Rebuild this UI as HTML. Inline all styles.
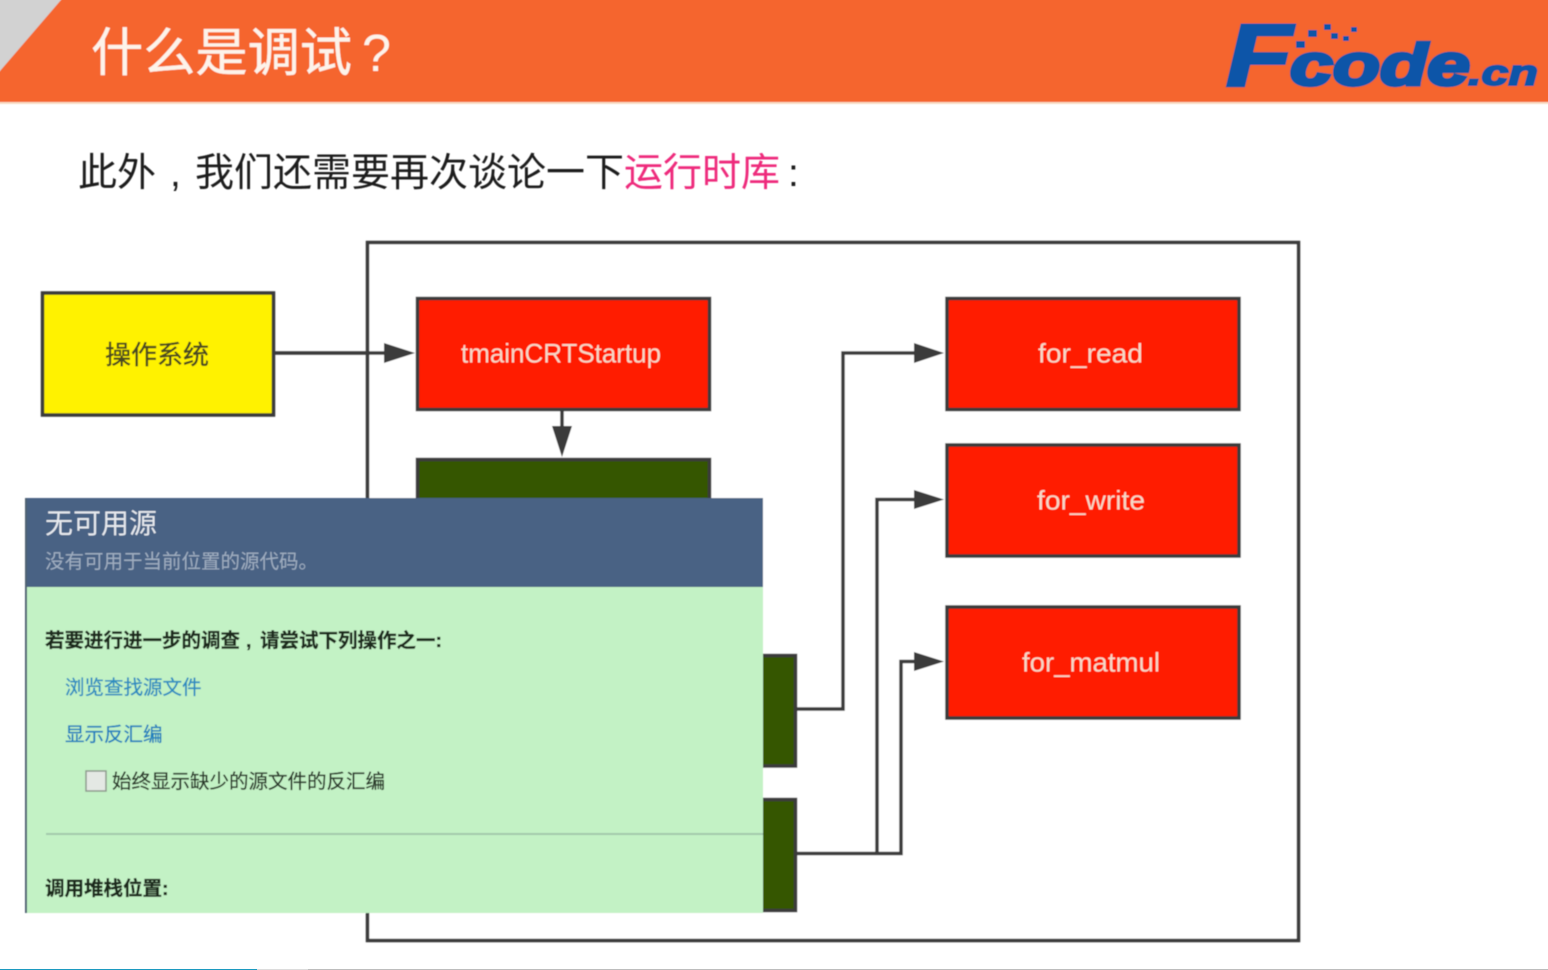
<!DOCTYPE html>
<html><head><meta charset="utf-8"><style>
html,body{margin:0;padding:0;background:#fff;width:1548px;height:970px;overflow:hidden}
svg{display:block;position:absolute;left:0;top:0}
text{font-family:"Liberation Sans","Noto Sans CJK SC",sans-serif}
</style></head><body>
<svg width="1548" height="970" viewBox="0 0 1548 970" xmlns="http://www.w3.org/2000/svg">
<defs><filter id="b" filterUnits="userSpaceOnUse" x="-20" y="-20" width="1588" height="1010"><feGaussianBlur stdDeviation="0.6"/></filter></defs>
<rect width="1548" height="970" fill="#fff"/>
<g filter="url(#b)">
<rect x="-20" y="-20" width="1588" height="122" fill="#f5652e"/>
<rect x="-20" y="102" width="1588" height="2" fill="#f8dcc4"/>
<polygon points="-20,-20 78,-20 61,0 0,71 -20,94" fill="#d2d2d2"/>
<text x="91" y="71" font-size="52" fill="#fdf3ea" stroke="#fdf3ea" stroke-width="0.4" textLength="261" lengthAdjust="spacingAndGlyphs">什么是调试</text>
<text x="362" y="71" font-size="52" fill="#fdf3ea">?</text>

<g fill="#0a55a8" stroke="#0a55a8" font-weight="bold" font-style="italic">
<text x="1226" y="86" font-size="88" stroke-width="3" textLength="66" lengthAdjust="spacingAndGlyphs">F</text>
<text x="1290" y="85" font-size="58" stroke-width="3.500" textLength="180" lengthAdjust="spacingAndGlyphs">code</text>
<text x="1468" y="85" font-size="36" stroke-width="2" textLength="70" lengthAdjust="spacingAndGlyphs">.cn</text>
</g>
<g fill="#0a55a8"><rect x="1308" y="30" width="9" height="7"/><rect x="1324" y="24" width="7" height="6"/><rect x="1331" y="33" width="7" height="6"/><rect x="1343" y="36" width="6" height="5"/><rect x="1351" y="27" width="6" height="5"/><rect x="1296" y="41" width="9" height="7"/></g>

<text x="78" y="186" font-size="39" fill="#1c1c1c">此外</text>
<text x="170" y="186" font-size="39" fill="#1c1c1c">,</text>
<text x="195" y="186" font-size="39" fill="#1c1c1c">我们还需要再次谈论一下<tspan fill="#ee2a7b">运行时库</tspan></text>
<text x="788" y="186" font-size="39" fill="#1c1c1c">:</text>

<rect x="367.500" y="242.500" width="931" height="698" fill="#fff" stroke="#3a3a3a" stroke-width="3.500"/>

<rect x="42.500" y="293" width="231" height="122" fill="#fff200" stroke="#3a3a3a" stroke-width="3.500"/>
<text x="157" y="364" font-size="26" fill="#4a4a20" stroke="#4a4a20" stroke-width="0.4" text-anchor="middle">操作系统</text>

<g fill="#ff1e00" stroke="#3a3a3a" stroke-width="3.500">
<rect x="417.500" y="298.500" width="292" height="111"/>
<rect x="947" y="298.500" width="292" height="111"/>
<rect x="947" y="445" width="292" height="111"/>
<rect x="947" y="607" width="292" height="111"/>
</g>
<g fill="#f6d9c8" font-size="27">
<text x="461" y="362.500" textLength="200" lengthAdjust="spacingAndGlyphs">tmainCRTStartup</text>
<text x="1038" y="362.500" textLength="105" lengthAdjust="spacingAndGlyphs">for_read</text>
<text x="1037" y="509.500" textLength="108" lengthAdjust="spacingAndGlyphs">for_write</text>
<text x="1022" y="671.500" textLength="138" lengthAdjust="spacingAndGlyphs">for_matmul</text>
</g>

<g fill="#345700" stroke="#3a3a3a" stroke-width="3.500">
<rect x="417.500" y="459.500" width="292" height="60"/>
<rect x="740" y="655.500" width="55.500" height="110.500"/>
<rect x="740" y="799.500" width="55.500" height="111"/>
</g>

<g fill="none" stroke="#3a3a3a" stroke-width="3.500">
<path d="M274 353H388"/>
<path d="M562 410V432"/>
<path d="M796 709H843V353H918"/>
<path d="M796 853.500H901V661.500H918"/>
<path d="M877 853.500V499.500H918"/>
</g>
<g fill="#3a3a3a">
<polygon points="384,343 415,353 384,363"/>
<polygon points="552,426 562,457 572,426"/>
<polygon points="914,343 944,353 914,363"/>
<polygon points="914,490 944,499.500 914,509"/>
<polygon points="914,652 944,661.500 914,671"/>
</g>

<rect x="26" y="498" width="737" height="89" fill="#4a6284"/>
<rect x="26" y="587" width="737" height="326" fill="#c3f2c5"/>
<rect x="25" y="498" width="2" height="415" fill="#4f6272"/>
<text x="45" y="533" font-size="28" fill="#e6e9ee">无可用源</text>
<text x="45" y="568" font-size="19.500" fill="#9fadc0">没有可用于当前位置的源代码。</text>
<g font-size="19.500" font-weight="bold" fill="#1c2a1c" stroke="#1c2a1c" stroke-width="0.3">
<text x="45" y="647">若要进行进一步的调查</text>
<text x="246" y="647">,</text>
<text x="260" y="647">请尝试下列操作之一:</text>
<text x="45" y="895">调用堆栈位置:</text>
</g>
<g stroke-width="0.3">
<text x="65" y="694" font-size="19.500" fill="#2a8cc0" stroke="#2a8cc0">浏览查找源文件</text>
<text x="65" y="741" font-size="19.500" fill="#1f80bd" stroke="#1f80bd">显示反汇编</text>
<text x="112" y="788" font-size="19.500" fill="#2a3a2a" stroke="#2a3a2a">始终显示缺少的源文件的反汇编</text>
</g>
<rect x="86" y="771" width="20" height="20" fill="#e4e8e4" stroke="#8d9a8d" stroke-width="1.500"/>
<rect x="46" y="833" width="717" height="2" fill="#a3c9ac"/>
</g>
<rect x="0" y="969" width="257" height="1" fill="#1c9ac0"/>
<rect x="257" y="969" width="51" height="1" fill="#dcdcdc"/>
<rect x="308" y="969" width="1240" height="1" fill="#bdbdbd"/>
</svg>
</body></html>
